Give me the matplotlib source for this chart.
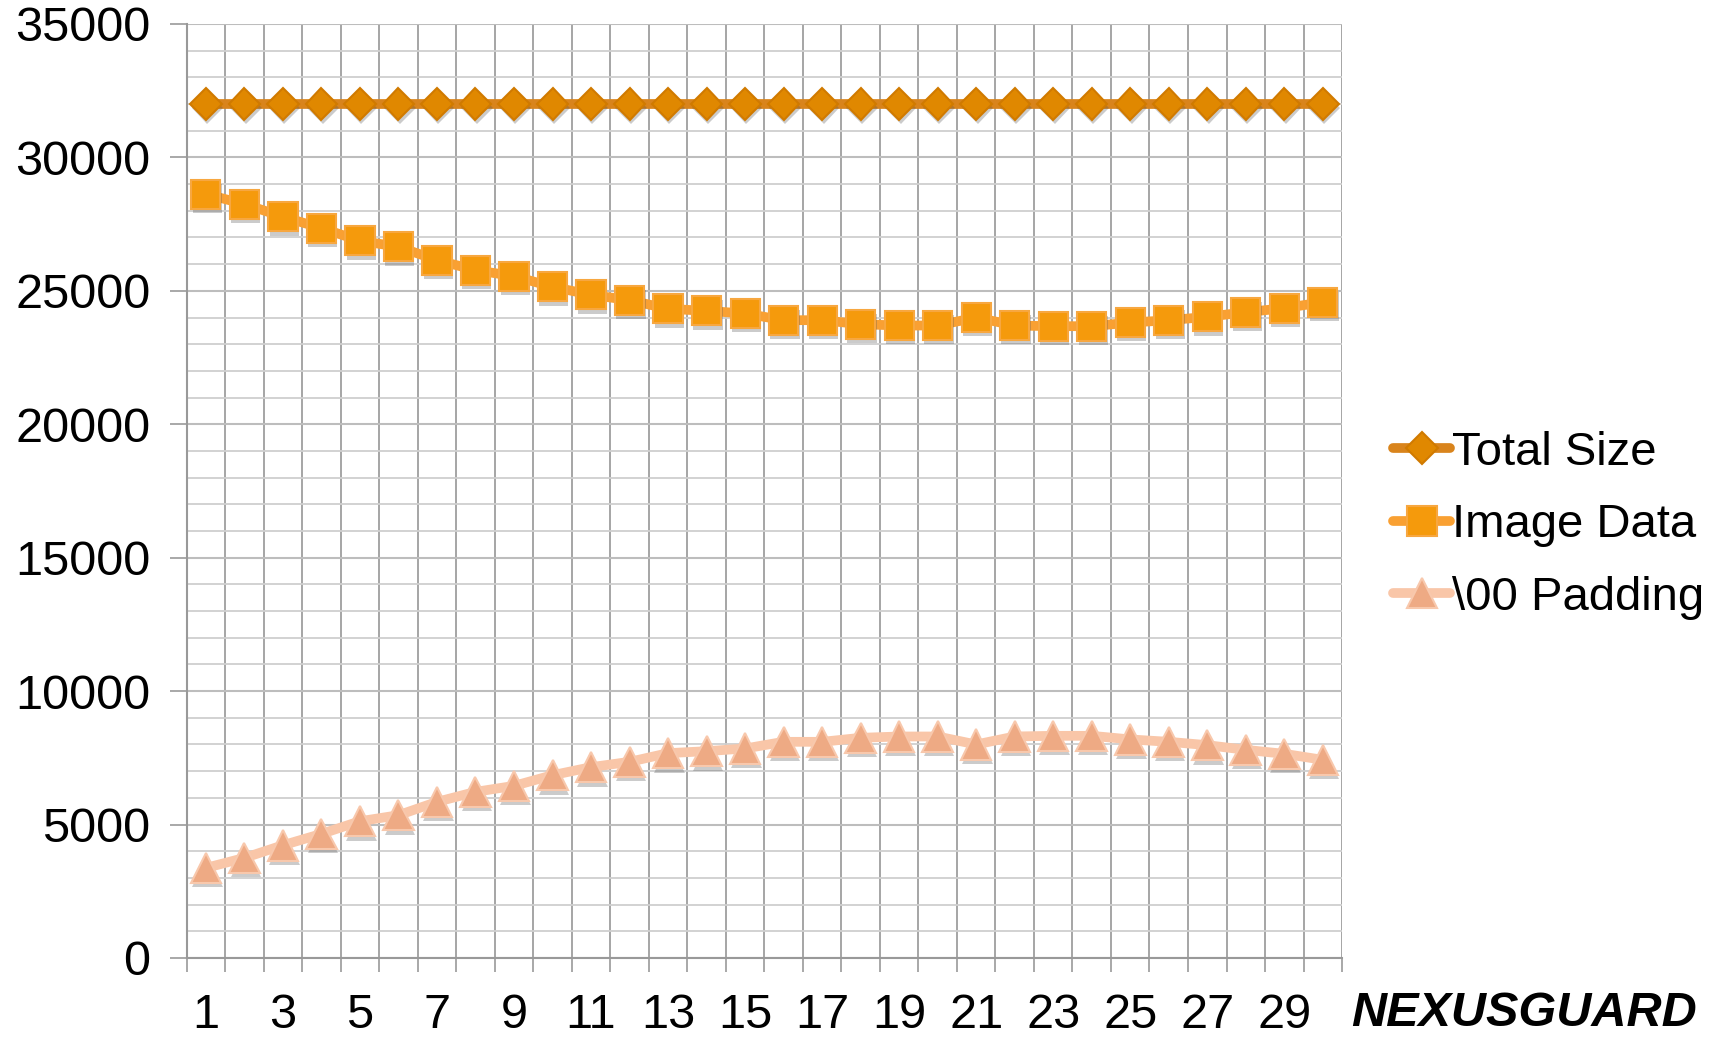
import matplotlib.pyplot as plt
import matplotlib.patheffects as pe
from matplotlib.ticker import MultipleLocator, FixedLocator

plt.rcParams['font.family'] = ['Liberation Sans', 'DejaVu Sans']

# data
runs = list(range(1, 31))
total_size = [32000] * 30
image_data = [28625, 28250, 27775, 27350, 26875, 26650, 26150, 25775, 25550, 25150,
              24850, 24650, 24325, 24250, 24150, 23900, 23900, 23750, 23700, 23700,
              24000, 23700, 23675, 23675, 23810, 23900, 24025, 24200, 24350, 24575]
padding = [3375, 3750, 4225, 4650, 5125, 5350, 5850, 6225, 6450, 6850,
           7150, 7350, 7675, 7750, 7850, 8100, 8100, 8250, 8300, 8300,
           8000, 8300, 8325, 8325, 8190, 8100, 7975, 7800, 7650, 7425]
xtick_labels = [str(i) for i in range(1, 31, 2)]

fig = plt.figure(figsize=(17.25, 10.38), dpi=100)
ax = fig.add_axes([0.1082, 0.0771, 0.6698, 0.8998])

shadow = [pe.SimplePatchShadow(offset=(1, -3), alpha=0.3, shadow_rgbFace='#555555'), pe.Normal()]

series = [
    ('Total Size', total_size, '#d9841c', 'D', 16, '#e08800', '#d07a00'),
    ('Image Data', image_data, '#f9a032', 's', 21, '#f59a0c', '#f7a740'),
    ('\\00 Padding', padding, '#f9c6a8', '^', 22, '#eeaa84', '#f8c8ac'),
]

handles = []
for name, vals, lc, mk, ms, fc, ec in series:
    ax.plot(runs, vals, color=lc, lw=7, solid_capstyle='round', zorder=3)
    ax.plot(runs, vals, ls='none', marker=mk, ms=ms, mfc=fc, mec=ec, mew=1.5,
            zorder=4, path_effects=shadow)
    h, = ax.plot([], [], color=lc, lw=7, solid_capstyle='round', marker=mk,
                 ms=ms, mfc=fc, mec=ec, mew=1.5, label=name)
    handles.append(h)

ax.set_xlim(0.5, 30.5)
ax.set_ylim(0, 35000)

ax.xaxis.set_major_locator(FixedLocator(range(1, 31, 2)))
ax.set_xticklabels(xtick_labels)
ax.xaxis.set_minor_locator(FixedLocator([i + 0.5 for i in range(0, 31)]))
ax.yaxis.set_major_locator(MultipleLocator(5000))
ax.yaxis.set_minor_locator(MultipleLocator(1000))

ax.tick_params(axis='x', which='major', length=0, labelsize=35, pad=25)
ax.tick_params(axis='x', which='minor', length=10, width=1.2, color='#999999')
ax.tick_params(axis='y', which='major', length=12, width=1.2, color='#999999',
               labelsize=35, pad=14)
ax.tick_params(axis='y', which='minor', length=0)

ax.grid(axis='x', which='minor', color='#9e9e9e', lw=1.3, zorder=0)
ax.grid(axis='y', which='minor', color='#cfcfcf', lw=1.3, zorder=0)
ax.grid(axis='y', which='major', color='#bdbdbd', lw=1.5, zorder=0)
ax.set_axisbelow(True)

for s in ['top', 'right']:
    ax.spines[s].set_visible(False)
for s in ['left', 'bottom']:
    ax.spines[s].set_color('#999999')
    ax.spines[s].set_linewidth(1.5)

fig.legend(handles=handles, loc='center left', bbox_to_anchor=(0.783, 0.494),
           frameon=False, fontsize=34, handlelength=1.2, handletextpad=0.05,
           labelspacing=0.6)

fig.text(0.783, 0.002, 'NEXUSGUARD', fontsize=35, fontweight='bold',
         fontstyle='italic', color='black', va='bottom', ha='left')

fig.savefig('out.png', dpi=100)
